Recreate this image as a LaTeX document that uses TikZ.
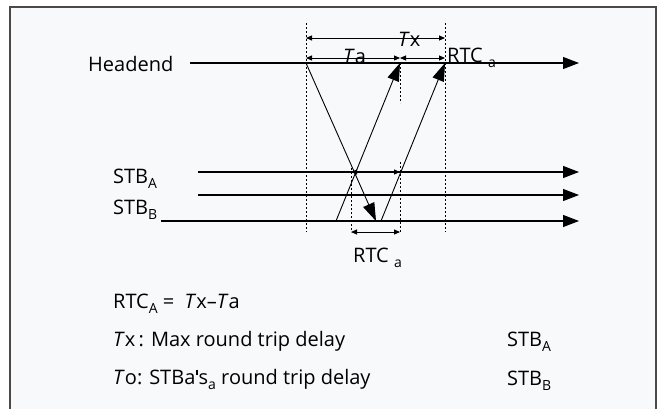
\documentclass[tikz,border=0pt]{standalone}
\usepackage{fontspec}
\setmainfont{Open Sans}
\usetikzlibrary{arrows.meta}
\definecolor{paper}{HTML}{F8F9FB}
\definecolor{rim}{HTML}{4A4A4A}
\newcommand\lowsub[1]{\raisebox{-5pt}{\fontsize{14}{14}\selectfont #1}}
\newcommand\straightq{\kern1pt\raisebox{9pt}{\rule{1.3pt}{5.5pt}}\kern1pt}
\tikzset{
  timeline/.style={line width=1.1pt,-{Triangle[length=16pt,width=12pt]}},
  signal/.style={line width=0.9pt,-{Triangle[length=18pt,width=12pt]}},
  guide/.style={line width=0.8pt,dash pattern=on 2pt off 2pt},
  span/.style={line width=0.9pt,{Triangle[length=6pt,width=5pt]}-{Triangle[length=6pt,width=5pt]}},
  lbl/.style={font=\fontsize{20}{24}\selectfont,inner sep=0pt,anchor=base west},
}
\begin{document}
\begin{tikzpicture}[x=1pt,y=-1pt]
\useasboundingbox (0,0) rectangle (659,408);
\fill[paper] (10,7) rectangle (656,415);
\draw[rim,line width=1.4pt] (10,415) -- (10,7) -- (656,7) -- (656,415);
% time lines
\node[lbl] (headend) at (88,71) {Headend};
\node[lbl] (stbA) at (113,183) {STB\lowsub{A}};
\node[lbl] (stbB) at (113,214) {STB\lowsub{B}};
\coordinate (h0) at (190,63);  \coordinate (h1) at (579,63);
\coordinate (a0) at (198,172); \coordinate (a1) at (579,172);
\coordinate (m0) at (198,195); \coordinate (m1) at (579,195);
\coordinate (b0) at (161,221); \coordinate (b1) at (579,221);
\draw[timeline] (h0) -- (h1);
\draw[timeline] (a0) -- (a1);
\draw[timeline] (m0) -- (m1);
\draw[timeline] (b0) -- (b1);
% guides
\coordinate (g1t) at (306,23);  \coordinate (g1b) at (306,232);
\coordinate (g2t) at (445,23);  \coordinate (g2b) at (445,232);
\coordinate (g3t) at (400,63);  \coordinate (g3b) at (400,103);
\coordinate (g4t) at (351,168); \coordinate (g4b) at (351,232);
\coordinate (g5t) at (400,162); \coordinate (g5b) at (400,232);
\foreach \g in {1,...,5}
  \draw[guide] (g\g t) -- (g\g b);
% signals
\coordinate (sd0) at (306,63);  \coordinate (sd1) at (376,221);
\coordinate (su0) at (336,221); \coordinate (su1) at (400,63);
\coordinate (sv0) at (381,221); \coordinate (sv1) at (445,63);
\draw[signal] (sd0) -- (sd1);
\draw[signal] (su0) -- (su1);
\draw[signal] (sv0) -- (sv1);
% spans
\coordinate (x0) at (306,38);  \coordinate (x1) at (445,38);
\coordinate (t0) at (306,58);  \coordinate (t1) at (400,58);
\coordinate (r0) at (400,58);  \coordinate (r1) at (445,58);
\coordinate (p0) at (351,172); \coordinate (p1) at (400,172);
\coordinate (q0) at (351,232); \coordinate (q1) at (400,232);
\draw[span] (x0) -- (x1);
\draw[span] (t0) -- (t1);
\draw[span] (r0) -- (r1);
\draw[span] (p0) -- (p1);
\draw[span] (q0) -- (q1);
\node[lbl] (tx) at (398,46) {\textit{T}x};
\node[lbl] (ta) at (343,63) {\textit{T}a};
\node[lbl] (rtcTop) at (447,62) {RTC \lowsub{a}};
\node[lbl] (rtcLow) at (353,262) {RTC \lowsub{a}};
% legend
\node[lbl] (eqn) at (113,308) {RTC\lowsub{A} = \ \textit{T}x–\textit{T}a};
\node[lbl] (maxd) at (113,346) {\textit{T}x\,: Max round trip delay};
\node[lbl] (ownd) at (113,384) {\textit{T}o: STBa\straightq s\lowsub{a} round trip delay};
\node[lbl] (keyA) at (507,346) {STB\lowsub{A}};
\node[lbl] (keyB) at (507,385) {STB\lowsub{B}};
\end{tikzpicture}
\end{document}
